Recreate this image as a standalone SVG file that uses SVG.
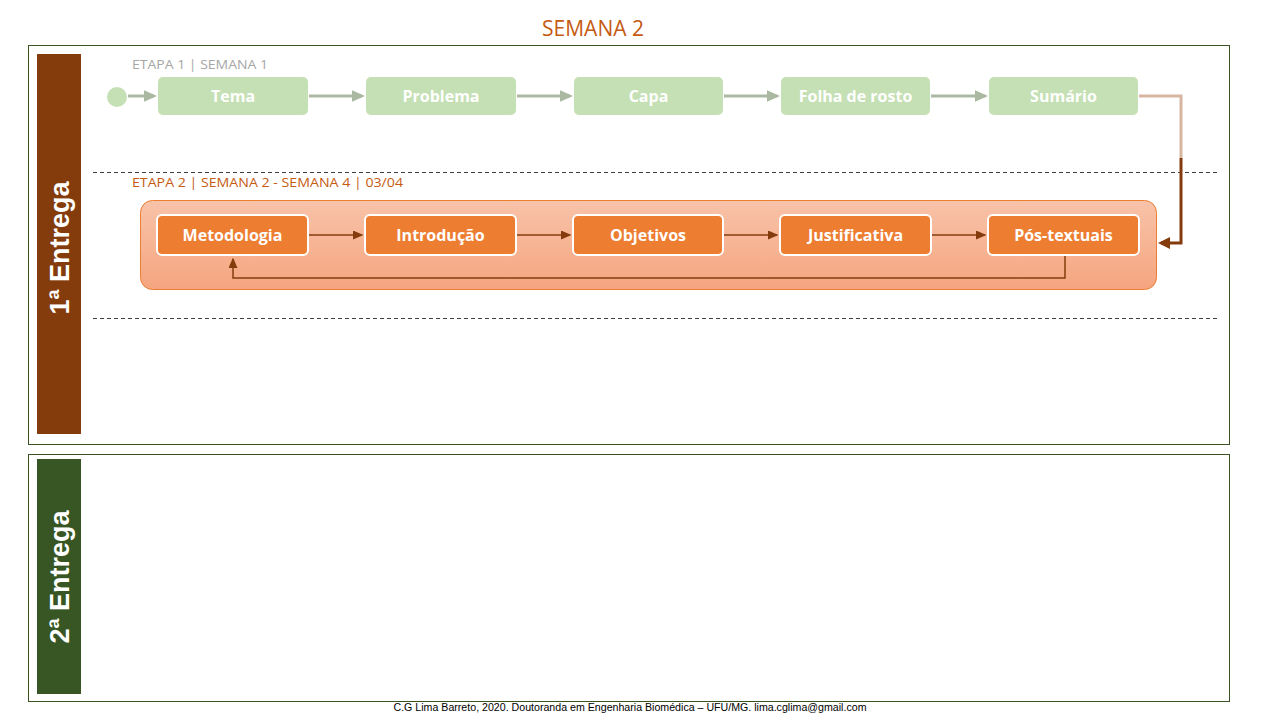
<svg xmlns="http://www.w3.org/2000/svg" width="1280" height="720" viewBox="0 0 1280 720">
<style>
.frame{fill:#fff;stroke:#3b5323;stroke-width:1}
.dash{stroke:#404040;stroke-width:1;stroke-dasharray:4 3;fill:none}
.gbox{fill:#c5e0b4}
.obox{fill:#ed7d31;stroke:#fff;stroke-width:2}
.lbl{font-family:"Open Sans",sans-serif;font-weight:bold;font-size:16px;fill:#fff;text-anchor:middle}
.side{font-family:"Liberation Sans",Arial,sans-serif;font-weight:bold;font-size:27px;fill:#fff;text-anchor:middle}
.stage{font-family:"Open Sans",sans-serif;font-size:13.5px}
.garr{stroke:#abb9a3;stroke-width:3;fill:none}
.oarr{stroke:#843c0c;stroke-width:1.5;fill:none}
</style>
<defs>
<marker id="mg" markerWidth="4.5" markerHeight="4" refX="3.5" refY="2" orient="auto" markerUnits="strokeWidth"><path d="M0,0 L4.5,2 L0,4 Z" fill="#abb9a3"/></marker>
<marker id="mo" markerWidth="7" markerHeight="6" refX="6" refY="3" orient="auto" markerUnits="strokeWidth"><path d="M0,0 L7,3 L0,6 Z" fill="#843c0c"/></marker>
<marker id="mb" markerWidth="4" markerHeight="4" refX="3" refY="2" orient="auto" markerUnits="strokeWidth"><path d="M0,0 L4,2 L0,4 Z" fill="#843c0c"/></marker>
<linearGradient id="og" x1="0" y1="0" x2="0" y2="1"><stop offset="0" stop-color="#f8c3a9"/><stop offset="1" stop-color="#f5a57f"/></linearGradient>
</defs>
<rect width="1280" height="720" fill="#fff"/>
<text x="593" y="36" font-family="Open Sans,sans-serif" font-size="21px" fill="#c55a11" text-anchor="middle">SEMANA 2</text>
<rect class="frame" x="28.5" y="45.5" width="1201" height="399"/>
<rect class="frame" x="28.5" y="454.5" width="1201" height="247"/>
<g id="bar1"><rect x="37" y="54" width="44" height="380" fill="#843c0c"/><text class="side" transform="translate(69,248) rotate(-90)">1ª Entrega</text></g>
<g id="bar2"><rect x="37" y="459" width="44" height="235" fill="#375623"/><text class="side" transform="translate(69,577) rotate(-90)">2ª Entrega</text></g>
<text class="stage" x="132" y="68.5" fill="#a6a6a6" textLength="136" lengthAdjust="spacingAndGlyphs">ETAPA 1 | SEMANA 1</text>
<text class="stage" x="132" y="186.5" fill="#c55a11" textLength="271" lengthAdjust="spacingAndGlyphs">ETAPA 2 | SEMANA 2 - SEMANA 4 | 03/04</text>
<line class="dash" x1="93" y1="172.5" x2="1217" y2="172.5"/>
<line class="dash" x1="93" y1="318.5" x2="1217" y2="318.5"/>
<rect id="container" x="140.5" y="200.5" width="1016" height="89" rx="12" fill="url(#og)" stroke="#ed7d31" stroke-width="1"/>
<g id="start"><circle cx="117" cy="97" r="10" fill="#c5e0b4"/></g>
<g id="tema"><rect class="gbox" x="158" y="77" width="150" height="38" rx="5"/><text class="lbl" x="233" y="102">Tema</text></g>
<g id="problema"><rect class="gbox" x="366" y="77" width="150" height="38" rx="5"/><text class="lbl" x="441" y="102">Problema</text></g>
<g id="capa"><rect class="gbox" x="574" y="77" width="149" height="38" rx="5"/><text class="lbl" x="648.5" y="102">Capa</text></g>
<g id="folha"><rect class="gbox" x="781" y="77" width="149" height="38" rx="5"/><text class="lbl" x="855.5" y="102">Folha de rosto</text></g>
<g id="sumario"><rect class="gbox" x="989" y="77" width="149" height="38" rx="5"/><text class="lbl" x="1063.5" y="102">Sumário</text></g>
<g id="metodologia"><rect class="obox" x="157" y="215" width="151" height="40" rx="5"/><text class="lbl" x="232.5" y="241">Metodologia</text></g>
<g id="introducao"><rect class="obox" x="365" y="215" width="151" height="40" rx="5"/><text class="lbl" x="440.5" y="241">Introdução</text></g>
<g id="objetivos"><rect class="obox" x="573" y="215" width="150" height="40" rx="5"/><text class="lbl" x="648" y="241">Objetivos</text></g>
<g id="justificativa"><rect class="obox" x="780" y="215" width="151" height="40" rx="5"/><text class="lbl" x="855.5" y="241">Justificativa</text></g>
<g id="postextuais"><rect class="obox" x="988" y="215" width="151" height="40" rx="5"/><text class="lbl" x="1063.5" y="241">Pós-textuais</text></g>
<g id="connectors">
<line class="garr" x1="128" y1="96" x2="154" y2="96" marker-end="url(#mg)"/>
<line class="garr" x1="309" y1="96" x2="362" y2="96" marker-end="url(#mg)"/>
<line class="garr" x1="517" y1="96" x2="570" y2="96" marker-end="url(#mg)"/>
<line class="garr" x1="724" y1="96" x2="777" y2="96" marker-end="url(#mg)"/>
<line class="garr" x1="931" y1="96" x2="985" y2="96" marker-end="url(#mg)"/>
<polyline points="1139,96 1181,96 1181,158" stroke="#d6b5a1" stroke-width="3" fill="none"/>
<polyline points="1181,158 1181,243 1161,243" stroke="#843c0c" stroke-width="3" fill="none" marker-end="url(#mb)"/>
<line class="oarr" x1="309" y1="235" x2="362" y2="235" marker-end="url(#mo)"/>
<line class="oarr" x1="517" y1="235" x2="570" y2="235" marker-end="url(#mo)"/>
<line class="oarr" x1="724" y1="235" x2="777" y2="235" marker-end="url(#mo)"/>
<line class="oarr" x1="932" y1="235" x2="985" y2="235" marker-end="url(#mo)"/>
<polyline class="oarr" points="1065,256 1065,278 233,278 233,259" marker-end="url(#mo)"/>
</g>
<text x="630" y="711" font-family="Liberation Sans,sans-serif" font-size="10px" fill="#000" text-anchor="middle" textLength="473" lengthAdjust="spacingAndGlyphs">C.G Lima Barreto, 2020. Doutoranda em Engenharia Biomédica – UFU/MG. lima.cglima@gmail.com</text>
</svg>
